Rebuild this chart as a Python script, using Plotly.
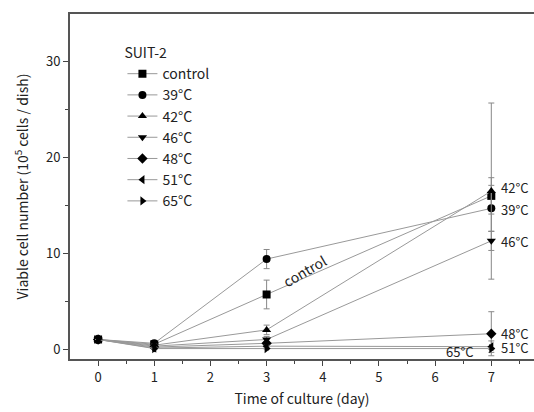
import plotly.graph_objects as go

days = [0, 1, 3, 7]
series_names = ["control", "39°C", "42°C", "46°C", "48°C", "51°C", "65°C"]
symbols = ["square", "circle", "triangle-up", "triangle-down", "diamond", "triangle-left", "triangle-right"]

control = [1.0, 0.5, 5.7, 16.0]
t39 = [1.0, 0.6, 9.4, 14.7]
t42 = [1.0, 0.4, 2.0, 16.5]
t46 = [1.0, 0.3, 1.0, 11.3]
t48 = [1.0, 0.2, 0.6, 1.6]
t51 = [1.0, 0.1, 0.3, 0.25]
t65 = [1.0, 0.05, 0.05, 0.05]

err_control = [0.0, 0.1, 1.5, 1.9]
err_39 = [0.0, 0.1, 1.0, 2.4]
err_42 = [0.0, 0.1, 0.5, 9.2]
err_46 = [0.0, 0.1, 0.3, 1.0]
err_48 = [0.0, 0.1, 0.2, 2.3]
err_51 = [0.0, 0.1, 0.1, 0.6]
err_65 = [0.0, 0.05, 0.05, 0.1]

values = [control, t39, t42, t46, t48, t51, t65]
errors = [err_control, err_39, err_42, err_46, err_48, err_51, err_65]

end_labels = ["42°C", "39°C", "46°C", "48°C", "51°C"]
end_label_y = [16.9, 14.6, 11.25, 1.6, 0.15]

FONT = "Noto Sans CJK JP, Noto Sans, sans-serif"
TXT = "#222"

fig = go.Figure()
for name, sym, vals, errs in zip(series_names, symbols, values, errors):
    fig.add_trace(go.Scatter(
        x=days, y=vals, name=name, mode="lines+markers",
        line=dict(color="#999999", width=1),
        marker=dict(symbol=sym, color="black", size=8),
        error_y=dict(type="data", array=errs, visible=True, color="#888888", thickness=1, width=3),
    ))

annotations = []
for txt, yv in zip(end_labels, end_label_y):
    annotations.append(dict(x=7, y=yv, text=txt, showarrow=False, xanchor="left", xshift=8,
                            font=dict(size=13, color=TXT, family=FONT)))
annotations.append(dict(x=6.45, y=-0.3, text="65°C", showarrow=False,
                        font=dict(size=13, color=TXT, family=FONT)))
annotations.append(dict(x=3.67, y=8.2, text="control", showarrow=False, textangle=-30,
                        font=dict(size=14, color=TXT, family=FONT)))

fig.update_layout(
    width=534, height=412,
    margin=dict(l=70, r=0, t=14, b=53),
    paper_bgcolor="white", plot_bgcolor="white",
    font=dict(family=FONT, color=TXT, size=13),
    showlegend=True,
    legend=dict(
        x=0.113, y=0.925, xanchor="left", yanchor="top",
        bgcolor="rgba(0,0,0,0)", font=dict(size=14, color=TXT),
        title=dict(text="SUIT-2", font=dict(size=14, color=TXT)),
        tracegroupgap=0, itemwidth=30,
    ),
    annotations=annotations,
    xaxis=dict(
        range=[-0.5, 7.76], tickmode="array", tickvals=list(range(8)),
        ticks="outside", ticklen=5, tickwidth=1, tickcolor="#444",
        showline=True, linecolor="#555", linewidth=2, mirror=True,
        showgrid=False, zeroline=False,
        minor=dict(tickvals=[0.5, 1.5, 2.5, 3.5, 4.5, 5.5, 6.5, 7.5], ticks="outside", ticklen=3, tickcolor="#444"),
        title=dict(text="Time of culture (day)", font=dict(size=14, color=TXT), standoff=10),
        tickfont=dict(size=13, color=TXT),
    ),
    yaxis=dict(
        range=[-1.04, 35], tickmode="array", tickvals=[0, 10, 20, 30],
        ticks="outside", ticklen=5, tickwidth=1, tickcolor="#444",
        showline=True, linecolor="#555", linewidth=2,
        showgrid=False, zeroline=False,
        minor=dict(tickvals=[5, 15, 25], ticks="outside", ticklen=3, tickcolor="#444"),
        title=dict(text="Viable cell number (10<sup>5</sup> cells / dish)", font=dict(size=14, color=TXT), standoff=14),
        tickfont=dict(size=13, color=TXT),
    ),
)

fig.write_html("out.html", config={"displayModeBar": False},
               post_script="document.body.style.margin='0';document.body.style.padding='0';")
